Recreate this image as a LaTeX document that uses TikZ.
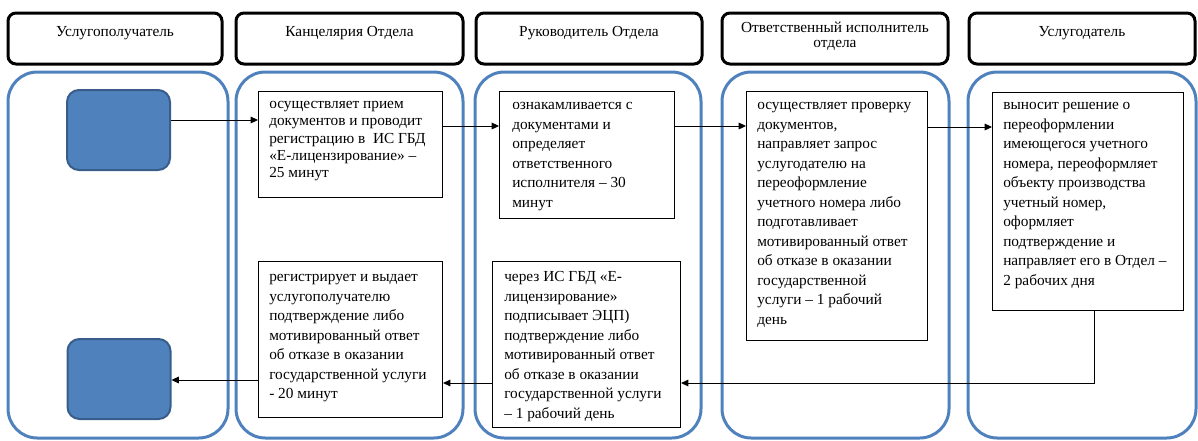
\documentclass[tikz,border=0pt]{standalone}
\usepackage{fontspec}
\setmainfont{Liberation Serif}
\newfontfamily\timesru{Liberation Serif}
\usetikzlibrary{arrows.meta}

\definecolor{laneblue}{RGB}{79,129,189}
\definecolor{sqline}{RGB}{56,93,138}

\begin{document}
\begin{tikzpicture}[x=0.75pt,y=0.75pt,yscale=-1,xscale=1,
  head/.style={draw, line width=2.25pt, rounded corners=6pt, minimum height=38.25pt, inner sep=0pt},
  headtxt/.style={align=center, inner sep=0pt, font=\timesru\fontsize{11.5}{11.5}\selectfont},
  lane/.style={draw=laneblue, line width=2.25pt, rounded corners=22pt},
  client/.style={fill=laneblue, draw=sqline, line width=1.5pt, rounded corners=9pt, minimum width=77.25pt, minimum height=60pt},
  stepbox/.style={draw, line width=0.8pt, anchor=north west, inner sep=0pt},
  steptxt/.style={anchor=north west, align=left, inner sep=0pt, font=\timesru\fontsize{11.5}{14.6}\selectfont},
  arr/.style={line width=0.75pt, -{Triangle[length=5.5pt,width=5pt]}}]
\useasboundingbox (0,0) rectangle (1198,440);

%Headers
\node[head, minimum width=160.5pt] (h1) at (115,38.5) {};
\node[head, minimum width=170.25pt] (h2) at (349.5,38.5) {};
\node[head, minimum width=169.5pt] (h3) at (589,38.5) {};
\node[head, minimum width=169.5pt] (h4) at (835,38.5) {};
\node[head, minimum width=169.5pt] (h5) at (1082,38.5) {};
% Text Node
\node[headtxt] (h1t) at (115,33) {Услугополучатель};
\node[headtxt] (h2t) at (349.5,33) {Канцелярия Отдела};
\node[headtxt] (h3t) at (589,33) {Руководитель Отдела};
\node[headtxt] (h4t) at (835,36) {Ответственный исполнитель\\отдела};
\node[headtxt] (h5t) at (1082,33) {Услугодатель};

%Lanes
\draw[lane] (8,72) rectangle (228,438);
\draw[lane] (236,72) rectangle (463,438);
\draw[lane] (475,72) rectangle (701,438);
\draw[lane] (722,72) rectangle (949,438);
\draw[lane] (968,72) rectangle (1196,438);

%Client squares
\node[client] (sq1) at (118.5,130) {};
\node[client] (sq2) at (119,379) {};

%Step boxes
\node[stepbox, minimum width=138pt, minimum height=79.5pt] (b1) at (258,91) {};
\node[stepbox, minimum width=131.25pt, minimum height=95.25pt] (b2) at (499,91) {};
\node[stepbox, minimum width=135.75pt, minimum height=186.75pt] (b3) at (746,91) {};
\node[stepbox, minimum width=143.25pt, minimum height=163.5pt] (b4) at (992,92) {};
\node[stepbox, minimum width=141pt, minimum height=124.5pt] (b5) at (492,261) {};
\node[stepbox, minimum width=138pt, minimum height=117pt] (b6) at (258,261) {};

% Text Node
\node[steptxt, font=\timesru\fontsize{11.5}{13}\selectfont] (b1t) at ([xshift=8.25pt,yshift=3.75pt]b1.north west) {\strut осуществляет прием\\документов и проводит\\регистрацию в\ \ ИС ГБД\\«Е-лицензирование» –\\25 минут};
\node[steptxt] (b2t) at ([xshift=9.75pt,yshift=3.75pt]b2.north west) {\strut ознакамливается с\\документами и\\определяет\\ответственного\\исполнителя – 30\\минут};
\node[steptxt] (b3t) at ([xshift=8.25pt,yshift=3.75pt]b3.north west) {\strut осуществляет проверку\\документов,\\направляет запрос\\услугодателю на\\переоформление\\учетного номера либо\\подготавливает\\мотивированный ответ\\об отказе в оказании\\государственной\\услуги – 1 рабочий\\день};
\node[steptxt] (b4t) at ([xshift=8.25pt,yshift=3pt]b4.north west) {\strut выносит решение о\\переоформлении\\имеющегося учетного\\номера, переоформляет\\объекту производства\\учетный номер,\\оформляет\\подтверждение и\\направляет его в Отдел –\\2 рабочих дня};
\node[steptxt] (b5t) at ([xshift=9pt,yshift=5.25pt]b5.north west) {\strut через ИС ГБД «Е-\\лицензирование»\\подписывает ЭЦП)\\подтверждение либо\\мотивированный ответ\\об отказе в оказании\\государственной услуги\\– 1 рабочий день};
\node[steptxt] (b6t) at ([xshift=8.25pt,yshift=5.25pt]b6.north west) {\strut регистрирует и выдает\\услугополучателю\\подтверждение либо\\мотивированный ответ\\об отказе в оказании\\государственной услуги\\- 20 минут};

%Arrows
\draw[arr] (sq1.east |- 0,120) -- (b1.west |- 0,120);
\draw[arr] (b1.east |- 0,126) -- (b2.west |- 0,126);
\draw[arr] (b2.east |- 0,126) -- (b3.west |- 0,126);
\draw[arr] (b3.east |- 0,127) -- (b4.west |- 0,127);
\draw[arr] (b4.south -| 1094,0) -- (1094,383) -- (b5.east |- 0,383);
\draw[arr] (b5.west |- 0,383) -- (b6.east |- 0,383);
\draw[arr] (b6.west |- 0,380) -- (sq2.east |- 0,380);

\end{tikzpicture}
\end{document}
